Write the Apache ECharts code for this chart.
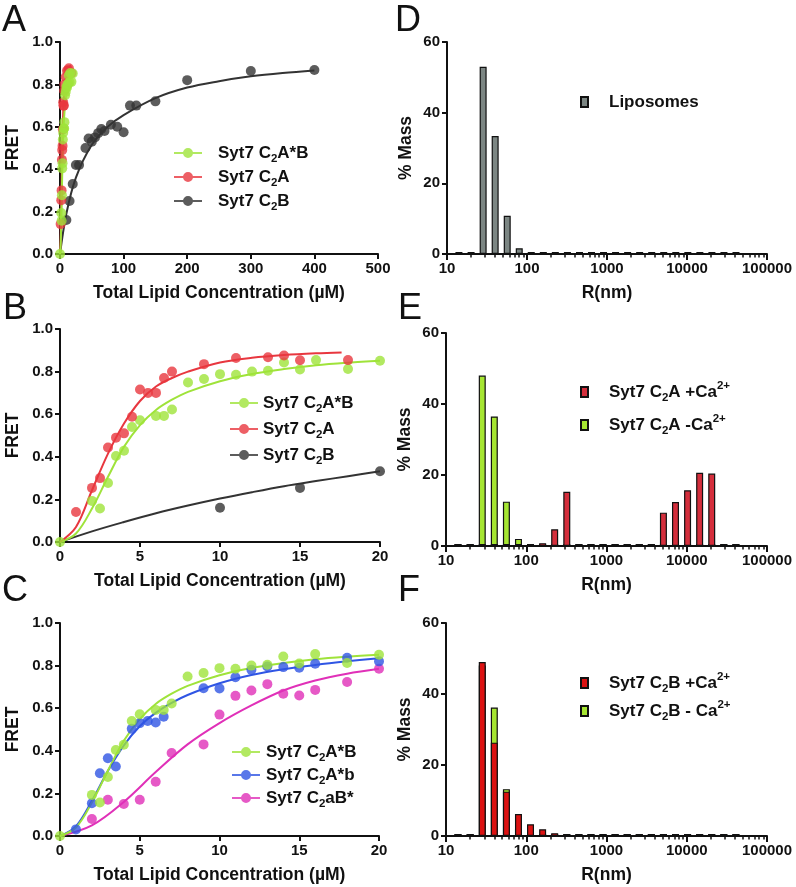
<!DOCTYPE html>
<html><head><meta charset="utf-8">
<script src="https://cdn.jsdelivr.net/npm/echarts@6/dist/echarts.min.js"></script>
<style>html,body{margin:0;padding:0;background:#fff}#c{width:796px;height:887px}</style>
</head><body><div id="c"></div>
<script>
// ---------------- DATA ----------------
// Panels A–C : FRET vs total lipid concentration (µM)
const AstarB_x = [0,2,2.5,3,3.5,4,4.5,5,6,6.5,7,8,9,10,11,12,13,14,15,16,18,20];
const AstarB_y = [0,0.193,0.157,0.277,0.404,0.428,0.54,0.572,0.592,0.592,0.622,0.749,0.765,0.788,0.785,0.80,0.804,0.843,0.81,0.854,0.812,0.851];
const AstarB_fit_x = [0,1,2,3,4,5,6,7,8,10,12,14,16,18,20];
const AstarB_fit_y = [0,0.04,0.157,0.306,0.447,0.549,0.62,0.668,0.705,0.755,0.789,0.812,0.83,0.842,0.851];

const C2A_x = [1,2,2.5,3,3.5,4,4.5,5,5.5,6,6.5,7,9,11,13,14,15,18];
const C2A_y = [0.141,0.254,0.30,0.444,0.49,0.51,0.588,0.716,0.70,0.70,0.77,0.80,0.835,0.864,0.867,0.876,0.853,0.854];
const C2A_fit_x = [0,1,2,3,4,5,6,7,8,10,12,14,16,17.6];
const C2A_fit_y = [0,0.07,0.243,0.415,0.556,0.662,0.73,0.77,0.80,0.843,0.865,0.878,0.886,0.89];

const C2B_B_x = [10,15,20];
const C2B_B_y = [0.161,0.254,0.332];
const C2B_B_fit_x = [0,2,4,6,8,10,12,14,16,18,20];
const C2B_B_fit_y = [0,0.05,0.094,0.135,0.171,0.204,0.234,0.262,0.286,0.309,0.332];

const C2B_A_x = [10,15,20,25,30,40,45,50,55,60,65,70,80,90,100,110,120,150,200,300,400];
const C2B_A_y = [0.16,0.25,0.33,0.42,0.42,0.50,0.545,0.53,0.55,0.57,0.59,0.58,0.61,0.60,0.574,0.70,0.70,0.72,0.82,0.863,0.868];
const C2B_A_fit_x = [0,10,25,50,75,100,150,200,250,300,350,400];
const C2B_A_fit_y = [0,0.19,0.36,0.515,0.60,0.655,0.735,0.785,0.815,0.838,0.854,0.866];

const Astarb_x = [1,2,2.5,3,3.5,4.5,5,5.5,6,6.5,9,10,11,12,13,14,15,16,18,20];
const Astarb_y = [0.031,0.154,0.295,0.365,0.326,0.503,0.53,0.54,0.533,0.56,0.694,0.693,0.745,0.78,0.796,0.793,0.79,0.809,0.837,0.82];
const Astarb_fit_x = [0,1,2,3,4,5,6,7,8,10,12,14,16,18,20];
const Astarb_fit_y = [0,0.045,0.165,0.305,0.425,0.515,0.578,0.625,0.662,0.717,0.756,0.783,0.803,0.82,0.835];

const aBstar_x = [2,3,4,5,6,7,9,10,11,12,13,14,15,16,18,20];
const aBstar_y = [0.08,0.17,0.15,0.17,0.255,0.39,0.43,0.57,0.658,0.683,0.713,0.668,0.66,0.686,0.723,0.785];
const aBstar_fit_x = [0,2,4,6,8,10,12,14,16,18,20];
const aBstar_fit_y = [0,0.05,0.16,0.30,0.43,0.53,0.613,0.683,0.73,0.762,0.785];

// Panels D–F : % mass vs hydrodynamic radius R (nm)
const R_BINS = [14.1,20,28.3,40,56.6,80,113,160,226,320,453,640,905,1280,1810,2560,3620,5120,7240,10240,14480,20480,28960,40960];
const D_LIPO   = [0,0,53,33.4,10.8,1.6,0,0,0,0,0,0,0,0,0,0,0,0,0,0,0,0,0,0];
const E_PLUS   = [0,0,0,0,0,0,0,0.8,4.7,15.3,0,0,0,0,0,0,0,9.4,12.4,15.7,20.6,20.4,0,0];
const E_MINUS  = [0,0,48,36.5,12.5,2,0,0,0,0,0,0,0,0,0,0,0,0,0,0,0,0,0,0];
const F_PLUS   = [0,0,49,26.3,12.5,6.2,3.3,1.9,0.8,0,0,0,0,0,0,0,0,0,0,0,0,0,0,0];
const F_MINUS  = [0,0,48,36.2,13.2,2,0,0,0,0,0,0,0,0,0,0,0,0,0,0,0,0,0,0];
const R_TICK_LABELS = [10,100,1000,10000,100000];
const R_MINOR_TICKS = [20,30,40,50,60,70,80,90,200,300,400,500,600,700,800,900,2000,3000,4000,5000,6000,7000,8000,9000,20000,30000,40000,50000,60000,70000,80000,90000];

// ---------------- STYLE ----------------
const FONT = '"Liberation Sans", Arial, Helvetica, sans-serif';
const INK = '#111111';
const GREEN = '#9fe33a', RED = '#e8373f', DARK = '#333333', BLUE = '#2f55e4', MAGENTA = '#e030b8';
const GRAY = '#7c8683', E_RED = '#d42e3c', F_RED = '#dc1212', H_GREEN = '#a6e632';

const pairs = (xs, ys) => xs.map((x, i) => [x, ys[i]]);

function scatter(name, xs, ys, color, idx) {
  return {type: 'scatter', name, xAxisIndex: idx, yAxisIndex: idx, data: pairs(xs, ys),
    symbol: 'circle', symbolSize: 10, itemStyle: {color}, clip: false, z: 3, silent: true};
}
function fit(xs, ys, color, idx) {
  return {type: 'line', name: 'fit', xAxisIndex: idx, yAxisIndex: idx, data: pairs(xs, ys),
    smooth: 0.35, showSymbol: false, symbol: 'none',
    lineStyle: {color, width: 2}, itemStyle: {color}, z: 2, silent: true};
}
function bars(name, vals, color, idx) {
  return {type: 'bar', name, xAxisIndex: idx, yAxisIndex: idx, data: pairs(R_BINS, vals),
    barWidth: 7, barGap: '-100%', barMinHeight: 2,
    itemStyle: {color, borderColor: INK, borderWidth: 1.2}, silent: true};
}

const axisCommon = {
  axisLine: {show: true, onZero: false, lineStyle: {color: INK, width: 2}},
  axisTick: {show: true, inside: false, length: 5, lineStyle: {color: INK, width: 2}},
  axisLabel: {color: INK, fontSize: 15, fontWeight: 'bold', fontFamily: FONT, margin: 7},
  splitLine: {show: false},
  nameTextStyle: {color: INK, fontSize: 17.5, fontWeight: 'bold', fontFamily: FONT},
  nameLocation: 'middle'
};
function xLin(g, max, interval) {
  return Object.assign({}, axisCommon, {type: 'value', gridIndex: g, min: 0, max, interval,
    name: 'Total Lipid Concentration (µM)', nameGap: 30});
}
function yFret(g) {
  return Object.assign({}, axisCommon, {type: 'value', gridIndex: g, min: 0, max: 1, interval: 0.2,
    name: 'FRET', nameGap: 38,
    axisLabel: Object.assign({}, axisCommon.axisLabel, {formatter: v => v.toFixed(1)})});
}
function yMass(g) {
  return Object.assign({}, axisCommon, {type: 'value', gridIndex: g, min: 0, max: 60, interval: 20,
    name: '% Mass', nameGap: 32});
}
function xLog(g) {
  return Object.assign({}, axisCommon, {type: 'log', logBase: 10, gridIndex: g, min: 10, max: 100000,
    splitNumber: 4, name: 'R(nm)', nameGap: 30,
    axisTick: {show: true, length: 6, lineStyle: {color: INK, width: 2}, customValues: R_TICK_LABELS},
    axisLabel: Object.assign({}, axisCommon.axisLabel, {formatter: v => String(Math.round(v)), customValues: R_TICK_LABELS})});
}
function xLogMinor(g) {
  return {type: 'log', logBase: 10, gridIndex: g, min: 10, max: 100000, position: 'bottom',
    axisLine: {show: false}, axisLabel: {show: false}, splitLine: {show: false},
    axisTick: {show: true, length: 3.5, lineStyle: {color: INK, width: 1.5}, customValues: R_MINOR_TICKS}};
}

const LINE_ICON = 'path://M0,9H28V11H0Z M9,10A5,5 0 1,1 19,10A5,5 0 1,1 9,10Z';
const legendFmt = n => '{g| }' + n.replace('C2', 'C{s|2}').replace('Ca2+', 'Ca{p|2+}');
function legend(names, left, top, gap, spacer, icon, iw, ih) {
  return {data: names, orient: 'vertical', left, top, itemGap: gap, padding: 0,
    icon, itemWidth: iw, itemHeight: ih, selectedMode: false, formatter: legendFmt,
    textStyle: {color: INK, fontSize: 17, fontWeight: 'bold', fontFamily: FONT, lineHeight: 20,
      rich: {
        g: {width: spacer},
        s: {fontSize: 11.5, fontWeight: 'bold', fontFamily: FONT, color: INK, padding: [12, 0, 0, 0]},
        p: {fontSize: 11.5, fontWeight: 'bold', fontFamily: FONT, color: INK, padding: [0, 0, 12, 0]}
      }}};
}

const letter = (t, x, y) => ({type: 'text', x, y, style: {text: t, fontSize: 36, fontFamily: FONT,
  fill: INK, verticalAlign: 'middle', align: 'left'}});

const option = {
  animation: false,
  backgroundColor: '#ffffff',
  grid: [
    {left: 60, top: 42, width: 318, height: 212},
    {left: 60, top: 329, width: 320, height: 213},
    {left: 60, top: 623, width: 319, height: 213},
    {left: 447, top: 42, width: 320, height: 212},
    {left: 446, top: 333, width: 321, height: 213},
    {left: 446, top: 623, width: 321, height: 213}
  ].map(g => Object.assign(g, {containLabel: false, outerBoundsMode: 'none'})),
  xAxis: [xLin(0, 500, 100), xLin(1, 20, 5), xLin(2, 20, 5), xLog(3), xLog(4), xLog(5), xLogMinor(3), xLogMinor(4), xLogMinor(5)],
  yAxis: [yFret(0), yFret(1), yFret(2), yMass(3), yMass(4), yMass(5)],
  legend: [
    legend(['Syt7 C2A*B', 'Syt7 C2A', 'Syt7 C2B'], 174, 143, 2, 11, LINE_ICON, 28, 10),
    legend(['Syt7 C2A*B', 'Syt7 C2A', 'Syt7 C2B'], 230, 393, 4, 0, LINE_ICON, 28, 10),
    legend(['Syt7 C2A*B', 'Syt7 C2A*b', 'Syt7 C2aB*'], 232, 742, 1, 1, LINE_ICON, 28, 10),
    legend(['Liposomes'], 580, 92, 4, 16, 'rect', 7, 10),
    legend(['Syt7 C2A +Ca2+', 'Syt7 C2A -Ca2+'], 580, 380, 9, 16, 'rect', 7, 10),
    legend(['Syt7 C2B +Ca2+', 'Syt7 C2B - Ca2+'], 580, 671, 4, 16, 'rect', 7, 10)
  ],
  series: [
    // A
    fit(C2B_A_fit_x, C2B_A_fit_y, DARK, 0),
    fit(C2A_fit_x, C2A_fit_y, RED, 0),
    fit(AstarB_fit_x, AstarB_fit_y, GREEN, 0),
    scatter('Syt7 C2B', C2B_A_x, C2B_A_y, DARK, 0),
    scatter('Syt7 C2A', C2A_x, C2A_y, RED, 0),
    scatter('Syt7 C2A*B', AstarB_x, AstarB_y, GREEN, 0),
    // B
    fit(C2B_B_fit_x, C2B_B_fit_y, DARK, 1),
    fit(AstarB_fit_x, AstarB_fit_y, GREEN, 1),
    fit(C2A_fit_x, C2A_fit_y, RED, 1),
    scatter('Syt7 C2B', C2B_B_x, C2B_B_y, DARK, 1),
    scatter('Syt7 C2A*B', AstarB_x, AstarB_y, GREEN, 1),
    scatter('Syt7 C2A', C2A_x, C2A_y, RED, 1),
    // C
    fit(aBstar_fit_x, aBstar_fit_y, MAGENTA, 2),
    fit(Astarb_fit_x, Astarb_fit_y, BLUE, 2),
    fit(AstarB_fit_x, AstarB_fit_y, GREEN, 2),
    scatter('Syt7 C2aB*', aBstar_x, aBstar_y, MAGENTA, 2),
    scatter('Syt7 C2A*b', Astarb_x, Astarb_y, BLUE, 2),
    scatter('Syt7 C2A*B', AstarB_x, AstarB_y, GREEN, 2),
    // D
    bars('Liposomes', D_LIPO, GRAY, 3),
    // E
    bars('Syt7 C2A -Ca2+', E_MINUS, H_GREEN, 4),
    bars('Syt7 C2A +Ca2+', E_PLUS, E_RED, 4),
    // F
    bars('Syt7 C2B - Ca2+', F_MINUS, H_GREEN, 5),
    bars('Syt7 C2B +Ca2+', F_PLUS, F_RED, 5)
  ],
  graphic: [letter('A', 2, 21), letter('B', 3, 309), letter('C', 2, 591),
            letter('D', 395, 21), letter('E', 398, 309), letter('F', 398, 591)]
};

const chart = echarts.init(document.getElementById('c'), null, {renderer: 'canvas'});
chart.setOption(option);
</script></body></html>
